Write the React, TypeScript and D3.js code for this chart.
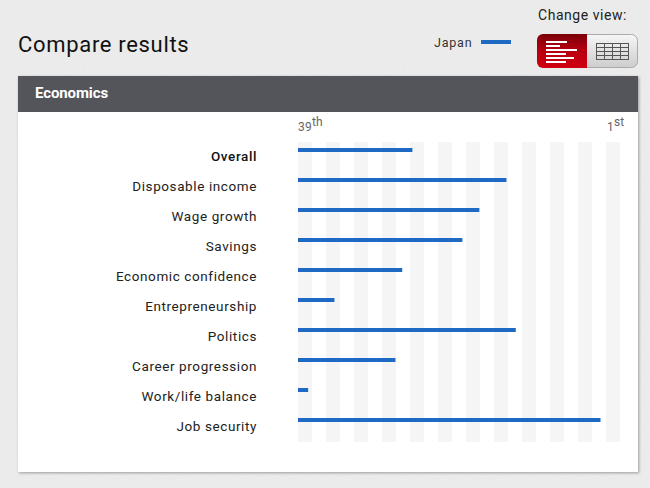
import React from 'react';
import * as d3 from 'd3';

const categories = [
  'Overall',
  'Disposable income',
  'Wage growth',
  'Savings',
  'Economic confidence',
  'Entrepreneurship',
  'Politics',
  'Career progression',
  'Work/life balance',
  'Job security',
];
// rank, 39 is the worst end of the axis and 1 the best
const ranks = [25.5, 14.4, 17.6, 19.6, 26.7, 34.7, 13.3, 27.5, 37.8, 3.3];
const rankTicks = [
  { num: '39', suffix: 'th', rank: 39, dx: 0 },
  { num: '1', suffix: 'st', rank: 1, dx: -13 },
];
const stripes = d3.range(12);

const FONT = "Roboto, 'Liberation Sans', sans-serif";
const BLUE = '#1e69c4';

const x = d3.scaleLinear().domain([39, 1]).range([298, 620]);
const y = d3.scalePoint<string>().domain(categories).range([150, 420]);
const stripeX = d3.scaleLinear().domain([0, 11]).range([298, 606]);

// little bars drawn on the red toggle button
const iconBars = [21, 14, 31, 20, 28, 20];

export default function App() {
  return (
    <div style={{ position: 'fixed', left: 0, top: 0, width: 650, height: 488 }}>
      <svg width={650} height={488} style={{ display: 'block' }} fontFamily={FONT}>
        <defs>
          <linearGradient id="redBtn" x1="0" y1="0" x2="0" y2="1">
            <stop offset="0" stopColor="#7a0008" />
            <stop offset="0.5" stopColor="#b80010" />
            <stop offset="1" stopColor="#d0000f" />
          </linearGradient>
          <linearGradient id="greyBtn" x1="0" y1="0" x2="0" y2="1">
            <stop offset="0" stopColor="#f6f6f6" />
            <stop offset="1" stopColor="#cdcdcd" />
          </linearGradient>
          <filter id="panelShadow" x="-2%" y="-2%" width="104%" height="104%">
            <feDropShadow dx="1" dy="1" stdDeviation="1.5" floodColor="#000" floodOpacity="0.35" />
          </filter>
          <filter id="paper" x="0" y="0" width="100%" height="100%">
            <feTurbulence type="fractalNoise" baseFrequency="0.8" numOctaves="2" seed="4" />
            <feColorMatrix values="0 0 0 0 0.5  0 0 0 0 0.5  0 0 0 0 0.5  0 0 0 0.12 0" />
          </filter>
          <clipPath id="leftBtn">
            <rect x={537} y={34} width={50} height={34} />
          </clipPath>
          <clipPath id="rightBtn">
            <rect x={587} y={34} width={52} height={34} />
          </clipPath>
        </defs>

        <rect width={650} height={488} fill="#eeeeee" />
        <rect width={650} height={488} filter="url(#paper)" />

        <text x={18} y={52} fontSize={22} letterSpacing={0.68} fill="#111">Compare results</text>
        <text x={538} y={20} fontSize={14} letterSpacing={0.55} fill="#222">Change view:</text>

        <text x={434} y={47} fontSize={12.5} letterSpacing={0.8} fill="#333">Japan</text>
        <rect x={481} y={40} width={30} height={4} fill={BLUE} />

        {/* toggle */}
        <rect x={537.5} y={34.5} width={100} height={33} rx={6} fill="url(#greyBtn)" stroke="#aaa" clipPath="url(#rightBtn)" />
        <rect x={537} y={34} width={60} height={34} rx={6} fill="url(#redBtn)" clipPath="url(#leftBtn)" />
        {iconBars.map((w, i) => (
          <rect key={i} x={546} y={41 + i * 4} width={w} height={2} fill="#fff" />
        ))}
        <g fill="none" stroke="#555" strokeWidth={1}>
          <rect x={596.5} y={43.5} width={32} height={16} />
          {[1, 2, 3].map(i => <line key={i} x1={596.5 + i * 8} x2={596.5 + i * 8} y1={43.5} y2={59.5} />)}
          {[1, 2, 3].map(i => <line key={i} x1={596.5} x2={628.5} y1={43.5 + i * 4} y2={43.5 + i * 4} />)}
        </g>

        {/* panel */}
        <rect x={18} y={76} width={620} height={396} fill="#fff" filter="url(#panelShadow)" />
        <rect x={18} y={76} width={620} height={36} fill="#54555a" />
        <text x={35} y={98} fontSize={15} fontWeight={700} letterSpacing={-0.1} fill="#fff">Economics</text>

        {stripes.map(i => (
          <rect key={i} x={stripeX(i)} y={142} width={14} height={300} fill="#f5f5f6" />
        ))}

        {rankTicks.map(t => (
          <text key={t.rank} x={x(t.rank) + t.dx} y={131} fontSize={12} fill="#666" letterSpacing={0.2}>
            {t.num}
            <tspan dy={-5} fontSize={12}>{t.suffix}</tspan>
          </text>
        ))}

        {categories.map((c, i) => (
          <g key={c}>
            <text
              x={257}
              y={(y(c) ?? 0) + 11}
              textAnchor="end"
              fontSize={13.5}
              letterSpacing={0.6}
              fontWeight={i === 0 ? 500 : 400}
              fill={i === 0 ? '#111' : '#222'}
            >
              {c}
            </text>
            <rect x={x(39)} y={(y(c) ?? 0) - 2} width={x(ranks[i]) - x(39)} height={4} fill={BLUE} />
          </g>
        ))}
      </svg>
    </div>
  );
}
